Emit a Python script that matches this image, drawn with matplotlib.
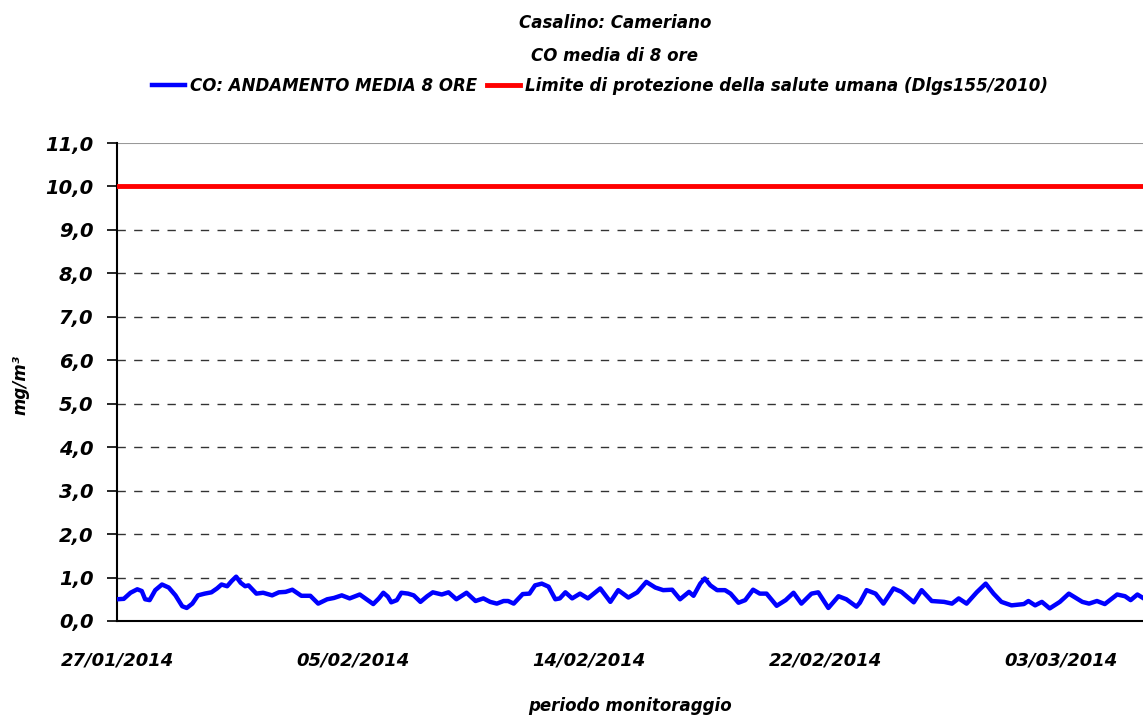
import matplotlib
matplotlib.use("Agg")
import matplotlib.pyplot as plt

# ore dall'inizio del monitoraggio (27/01/2014) e media mobile 8 ore di CO (mg/m3)
ore = [0, 6, 12, 18, 22, 25, 29, 34, 40, 46, 52, 58, 62, 67, 72, 78, 84, 89, 93, 98,
       102, 106, 110, 114, 117, 124, 130, 138, 144, 150, 156, 164, 172, 179, 187, 193, 200, 207,
       216, 222, 228, 233, 237, 241, 244, 249, 253, 259, 264, 270, 276, 281, 289, 295, 302, 311,
       319, 326, 332, 338, 344, 348, 353, 361, 367, 372, 378, 384, 390, 394, 399, 405, 412, 419,
       430, 439, 446, 455, 463, 471, 479, 486, 494, 501, 509, 513, 519, 523, 528, 534, 541, 546,
       553, 559, 566, 572, 578, 587, 595, 602, 609, 618, 624, 633, 642, 649, 658, 661, 667, 675,
       682, 691, 698, 709, 716, 725, 736, 743, 749, 756, 765, 773, 780, 787, 796, 807, 811, 817,
       823, 830, 839, 847, 859, 865, 872, 879, 890, 897, 902, 908, 913]
co = [0.50, 0.51, 0.65, 0.73, 0.69, 0.50, 0.48, 0.71, 0.84, 0.77, 0.59, 0.34, 0.30, 0.40, 0.59, 0.63, 0.66, 0.75, 0.84, 0.80,
      0.92, 1.02, 0.88, 0.80, 0.82, 0.63, 0.65, 0.59, 0.66, 0.67, 0.72, 0.58, 0.58, 0.40, 0.50, 0.53, 0.59, 0.52,
      0.61, 0.50, 0.39, 0.52, 0.65, 0.56, 0.43, 0.48, 0.65, 0.63, 0.59, 0.44, 0.57, 0.66, 0.61, 0.66, 0.50, 0.65,
      0.46, 0.52, 0.44, 0.40, 0.46, 0.46, 0.40, 0.62, 0.63, 0.82, 0.86, 0.79, 0.50, 0.52, 0.66, 0.52, 0.63, 0.52,
      0.75, 0.44, 0.71, 0.54, 0.66, 0.90, 0.77, 0.71, 0.72, 0.50, 0.67, 0.58, 0.86, 0.98, 0.82, 0.71, 0.71, 0.63,
      0.42, 0.48, 0.72, 0.63, 0.63, 0.35, 0.48, 0.65, 0.40, 0.63, 0.66, 0.30, 0.57, 0.50, 0.33, 0.42, 0.71, 0.63,
      0.40, 0.75, 0.67, 0.43, 0.71, 0.46, 0.44, 0.40, 0.52, 0.40, 0.66, 0.86, 0.63, 0.44, 0.36, 0.39, 0.46, 0.36,
      0.44, 0.29, 0.44, 0.63, 0.44, 0.40, 0.46, 0.39, 0.61, 0.57, 0.48, 0.61, 0.53]
limite = 10.0

etichette_x = ["27/01/2014", "05/02/2014", "14/02/2014", "22/02/2014", "03/03/2014"]
pos_etichette = [0, 210, 420, 630, 840]
y_ticks = list(range(0, 12))

font = dict(family="DejaVu Sans", weight="bold", style="italic")

fig = plt.figure(figsize=(11.43, 7.18), dpi=100)
ax = fig.add_axes([0.1024, 0.1351, 0.8976, 0.6657])

ax.plot(ore, co, color="#0000ff", lw=3.2, label="CO: ANDAMENTO MEDIA 8 ORE", zorder=3)
ax.axhline(limite, color="#ff0000", lw=3.5, label="Limite di protezione della salute umana (Dlgs155/2010)", zorder=3)

ax.set_xlim(0, 913)
ax.set_ylim(0, 11)
ax.set_yticks(y_ticks)
ax.set_yticklabels([f"{v},0" for v in y_ticks], fontsize=14, **font)
ax.set_xticks(pos_etichette)
ax.set_xticklabels(etichette_x, fontsize=13, **font)
ax.tick_params(axis="x", length=0, pad=22)
ax.tick_params(axis="y", direction="out", length=7, width=1.2, pad=10)

# griglia tratteggiata
for v in range(1, 10):
    ax.axhline(v, color="#333333", lw=1, ls=(0, (6, 6)), zorder=1)
ax.axhline(11, color="#999999", lw=1.5, zorder=1)

for s in ["top", "right"]:
    ax.spines[s].set_visible(False)
ax.spines["left"].set_linewidth(1.5)
ax.spines["bottom"].set_linewidth(1.5)

ax.set_xlabel("periodo monitoraggio", fontsize=12, **font)
ax.xaxis.set_label_coords(0.5, -0.158)
ax.set_ylabel("mg/m³", fontsize=12, **font)
ax.yaxis.set_label_coords(-0.085, 0.494)

fig.text(0.538, 0.968, "Casalino: Cameriano", ha="center", va="center", fontsize=12, **font)
fig.text(0.538, 0.922, "CO media di 8 ore", ha="center", va="center", fontsize=12, **font)
fig.legend(loc="center", bbox_to_anchor=(0.525, 0.88), ncol=2, frameon=False,
           prop=dict(size=12, **font), handlelength=2.0, columnspacing=0.6, handletextpad=0.3)

fig.savefig("out.png", dpi=100)
